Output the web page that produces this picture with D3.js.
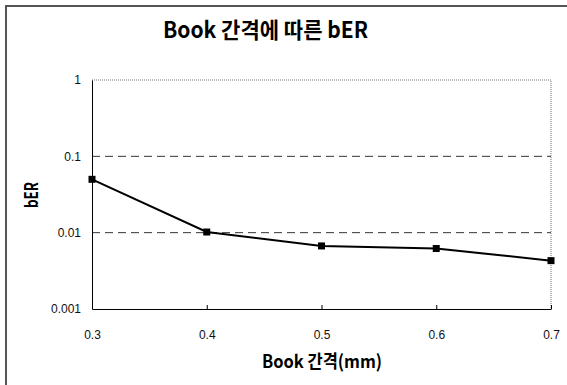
<!DOCTYPE html>
<html>
<head>
<meta charset="utf-8">
<script src="https://cdn.jsdelivr.net/npm/d3@7"></script>
<style>
	body { margin: 0; background: #fff; }
	svg { display: block; }
</style>
</head>
<body>
<svg id="chart" width="567" height="385"></svg>
<script>

var gaps = [0.3, 0.4, 0.5, 0.6, 0.7];		// Book 간격 (mm)
var ber = [0.05, 0.0102, 0.0067, 0.0062, 0.0043];
var yTicks = [0.001, 0.01, 0.1, 1];
var yTickLabels = ["0.001", "0.01", "0.1", "1"];
var xTickLabels = ["0.3", "0.4", "0.5", "0.6", "0.7"];
var gridVals = [0.01, 0.1];

var svg = d3.select("#chart");
var [ mT, mR, mB, mL ] = [ 80, 16, 76, 92 ];		// plot area margins
var width = 567, height = 385;
var tickFont = "'Liberation Sans', Arial, sans-serif";
var ttlFont = "'Noto Sans CJK KR', sans-serif";

// outer frame (only top/left visible)
svg.append("path")
	.attr("d", `M6,${height} V6 H${width}`)
	.attr("fill", "none")
	.attr("stroke", "#555")
	.attr("stroke-width", 2);

var x = d3.scaleLinear([0.3, 0.7], [ mL, width-mR ]);
var y = d3.scaleLog([0.001, 1], [ height-mB, mT ]);

// plot border: dotted top / right
svg.append("path")
	.attr("d", `M${mL},${mT} H${width-mR} V${height-mB}`)
	.attr("fill", "none")
	.attr("stroke", "#777")
	.attr("stroke-width", 1)
	.attr("stroke-dasharray", "1,1");

// dashed gridlines
svg.append("g")
	.selectAll("line")
	.data(gridVals)
	.join("line")
	.attr("x1", mL).attr("x2", width-mR)
	.attr("y1", d => y(d)).attr("y2", d => y(d))
	.attr("stroke", "#333")
	.attr("stroke-dasharray", "8,5");

// axes
var xAxis = svg.append("g")
	.attr("transform", `translate(0, ${height-mB})`)
	.call(d3.axisBottom(x).tickValues(gaps).tickSizeInner(-4).tickSizeOuter(0).tickFormat((d,i) => xTickLabels[i]))
	.attr("font-family", tickFont)
	.attr("font-size", 12);
xAxis.select(".domain").attr("stroke", "#000");
xAxis.selectAll("text").attr("y", 21).attr("fill", "#111");

var yAxis = svg.append("g")
	.attr("transform", `translate(${mL}, 0)`)
	.call(d3.axisLeft(y).tickValues(yTicks).tickSize(0).tickFormat((d,i) => yTickLabels[i]))
	.attr("font-family", tickFont)
	.attr("font-size", 12);
yAxis.select(".domain").attr("stroke", "#000");
yAxis.selectAll("text").attr("x", -11).attr("fill", "#111");

// data line + markers
svg.append("path")
	.datum(gaps.map((g,i) => [g, ber[i]]))
	.attr("fill", "none")
	.attr("stroke", "#000")
	.attr("stroke-width", 2)
	.attr("d", d3.line().x(d => x(d[0])).y(d => y(d[1])));

svg.append("g")
	.selectAll("rect")
	.data(gaps.map((g,i) => [g, ber[i]]))
	.join("rect")
	.attr("x", d => x(d[0]) - 3.5)
	.attr("y", d => y(d[1]) - 3.5)
	.attr("width", 7)
	.attr("height", 7)
	.attr("fill", "#000");

// titles (condensed bold look via textLength)
svg.append("text")
	.attr("x", 163).attr("y", 38)
	.attr("font-family", ttlFont).attr("font-weight", "bold")
	.attr("font-size", 22)
	.attr("textLength", 205)
	.attr("lengthAdjust", "spacingAndGlyphs")
	.text("Book 간격에 따른 bER");

svg.append("text")
	.attr("x", 262).attr("y", 368)
	.attr("font-family", ttlFont).attr("font-weight", "bold")
	.attr("font-size", 18)
	.attr("textLength", 120)
	.attr("lengthAdjust", "spacingAndGlyphs")
	.text("Book 간격(mm)");

svg.append("text")
	.attr("transform", "translate(38, 208) rotate(-90)")
	.attr("font-family", ttlFont).attr("font-weight", "bold")
	.attr("font-size", 18)
	.attr("textLength", 26)
	.attr("lengthAdjust", "spacingAndGlyphs")
	.text("bER");

</script>
</body>
</html>
